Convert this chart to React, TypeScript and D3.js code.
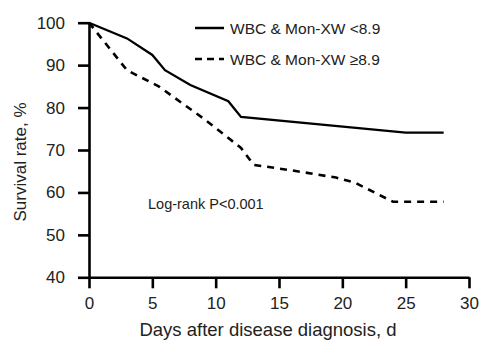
import { useEffect, useRef } from 'react'
import * as d3 from 'd3'

// Kaplan-Meier style steps
const lowDays = [0, 3, 5, 6, 8, 11, 12, 25, 28]
const lowSurvival = [100, 96.3, 92.4, 88.8, 85.3, 81.5, 77.8, 74.1, 74.1]

const highDays = [0, 3, 5.5, 9, 12, 13, 16, 19.5, 21, 24, 28]
const highSurvival = [100, 88.8, 85, 77.5, 70.5, 66.5, 65.2, 63.5, 62.3, 57.8, 57.8]

const xTicks = [0, 5, 10, 15, 20, 25, 30]
const yTicks = [40, 50, 60, 70, 80, 90, 100]

const legendLabels = ['WBC & Mon-XW <8.9', 'WBC & Mon-XW \u22658.9']

const W = 480
const H = 340
const FONT = '"Liberation Sans", Arial, Helvetica, sans-serif'

export default function App() {
  const svgRef = useRef<SVGSVGElement>(null)

  useEffect(() => {
    const svg = d3.select(svgRef.current)
    svg.selectAll('*').remove()

    const x = d3.scaleLinear().domain([0, 30]).range([89, 469])
    const y = d3.scaleLinear().domain([40, 100]).range([277.3, 22.7])

    // eixo Y
    const yAxis = svg.append('g')
      .attr('transform', `translate(${x(0)},0)`)
      .call(d3.axisLeft(y).tickValues(yTicks).tickSize(11).tickSizeOuter(0).tickPadding(13))
    yAxis.select('.domain').attr('stroke', '#000').attr('stroke-width', 2.6)
    yAxis.selectAll('.tick line').attr('stroke', '#000').attr('stroke-width', 2.6)
    yAxis.selectAll('.tick text')
      .attr('font-family', FONT)
      .attr('font-size', 17)
      .attr('fill', '#222')

    // eixo X
    const xAxis = svg.append('g')
      .attr('transform', `translate(0,${y(40)})`)
      .call(d3.axisBottom(x).tickValues(xTicks).tickSize(11).tickSizeOuter(0).tickPadding(9))
    xAxis.select('.domain').attr('stroke', '#000').attr('stroke-width', 2.6)
    xAxis.selectAll('.tick line').attr('stroke', '#000').attr('stroke-width', 2.6)
    xAxis.selectAll('.tick text')
      .attr('font-family', FONT)
      .attr('font-size', 17)
      .attr('fill', '#222')

    // titulos
    svg.append('text')
      .attr('x', 268)
      .attr('y', 336)
      .attr('text-anchor', 'middle')
      .attr('font-family', FONT)
      .attr('font-size', 18.5)
      .attr('fill', '#222')
      .text('Days after disease diagnosis, d')

    svg.append('text')
      .attr('transform', 'translate(26,162) rotate(-90)')
      .attr('text-anchor', 'middle')
      .attr('font-family', FONT)
      .attr('font-size', 17)
      .attr('fill', '#222')
      .text('Survival rate, %')

    // curvas
    const line = d3.line<[number, number]>()
      .x(d => x(d[0]))
      .y(d => y(d[1]))

    svg.append('path')
      .datum(lowDays.map((d, i) => [d, lowSurvival[i]] as [number, number]))
      .attr('d', line)
      .attr('fill', 'none')
      .attr('stroke', '#000')
      .attr('stroke-width', 2.3)

    svg.append('path')
      .datum(highDays.map((d, i) => [d, highSurvival[i]] as [number, number]))
      .attr('d', line)
      .attr('fill', 'none')
      .attr('stroke', '#000')
      .attr('stroke-width', 2.6)
      .attr('stroke-dasharray', '7,6')

    // legenda
    const legend = svg.append('g')
    legendLabels.forEach((label, i) => {
      const ly = 28 + i * 31
      legend.append('line')
        .attr('x1', 195).attr('x2', 224)
        .attr('y1', ly).attr('y2', ly)
        .attr('stroke', '#000')
        .attr('stroke-width', 2.5)
        .attr('stroke-dasharray', i === 0 ? null : '7,5')
      legend.append('text')
        .attr('x', 230)
        .attr('y', ly + 1)
        .attr('dy', '0.35em')
        .attr('font-family', FONT)
        .attr('font-size', 15.5)
        .attr('fill', '#222')
        .text(label)
    })

    svg.append('text')
      .attr('x', 148)
      .attr('y', 209)
      .attr('font-family', FONT)
      .attr('font-size', 14.5)
      .attr('fill', '#222')
      .text('Log-rank P<0.001')
  }, [])

  return (
    <svg
      ref={svgRef}
      width={W}
      height={H}
      style={{ position: 'absolute', left: 0, top: 0, background: '#fff' }}
    />
  )
}
